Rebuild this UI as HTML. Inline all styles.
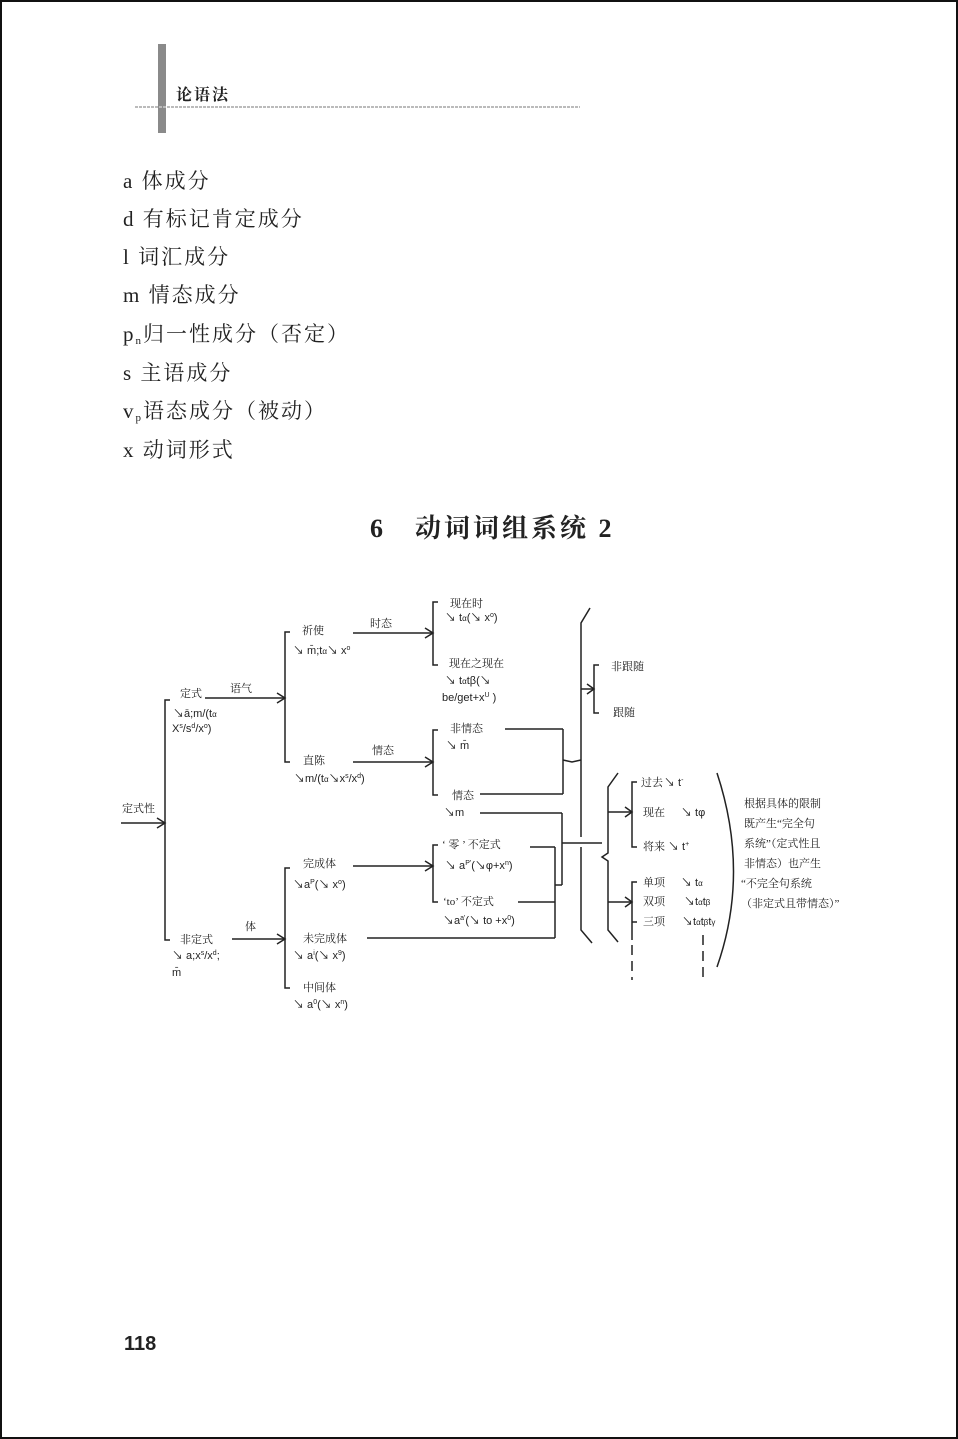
<!DOCTYPE html>
<html><head><meta charset="utf-8"><style>
html,body{margin:0;padding:0;background:#fff}
svg{display:block}
.s{font-family:"Liberation Serif","Noto Serif CJK SC",serif;fill:#222}
.f{font-family:"Liberation Sans","Noto Sans CJK SC",sans-serif;fill:#222}
</style></head><body>
<svg width="958" height="1439" viewBox="0 0 958 1439" xmlns="http://www.w3.org/2000/svg">
<rect x="1" y="1" width="956" height="1437" fill="#fff" stroke="#111" stroke-width="2"/>
<rect x="158" y="44" width="8" height="89" fill="#8a8a8a"/>
<text x="176" y="100" class="s" font-size="16" font-weight="bold" letter-spacing="2">论语法</text>
<line x1="135" y1="107" x2="580" y2="107" stroke="#bbb" stroke-width="2" stroke-dasharray="3,1"/>
<g class="s" font-size="21" letter-spacing="2">
<text x="123" y="188">a 体成分</text>
<text x="123" y="226">d 有标记肯定成分</text>
<text x="123" y="264">l 词汇成分</text>
<text x="123" y="302">m 情态成分</text>
<text x="123" y="341">p<tspan font-size="11" dy="3">n</tspan><tspan dy="-3">归一性成分（否定）</tspan></text>
<text x="123" y="380">s 主语成分</text>
<text x="123" y="418">v<tspan font-size="11" dy="3">p</tspan><tspan dy="-3">语态成分（被动）</tspan></text>
<text x="123" y="457">x 动词形式</text>
</g>
<text x="370" y="537" class="s" font-size="26" font-weight="bold" letter-spacing="3">6　动词词组系统 2</text>
<text x="124" y="1350" class="f" font-size="20" font-weight="bold">118</text>

<g stroke="#222" stroke-width="1.5" fill="none">
<line x1="121" y1="823" x2="165" y2="823"/><polyline points="157,818 165,823 157,828"/>
<polyline points="170,700 165,700 165,940 170,940"/>
<line x1="205" y1="698" x2="285" y2="698"/><polyline points="277,693 285,698 277,703"/>
<polyline points="290,632 285,632 285,762 290,762"/>
<line x1="353" y1="633" x2="433" y2="633"/><polyline points="425,628 433,633 425,638"/>
<polyline points="438,602 433,602 433,665 438,665"/>
<line x1="353" y1="762" x2="433" y2="762"/><polyline points="425,757 433,762 425,767"/>
<polyline points="438,730 433,730 433,795 438,795"/>
<line x1="505" y1="729" x2="563" y2="729"/>
<line x1="480" y1="794" x2="563" y2="794"/>
<line x1="563" y1="729" x2="563" y2="794"/>
<polyline points="563,760 572,762 581,760"/>
<line x1="480" y1="813" x2="562" y2="813"/>
<line x1="562" y1="813" x2="562" y2="885"/>
<line x1="555" y1="885" x2="562" y2="885"/>
<line x1="562" y1="843" x2="602" y2="843"/>
<line x1="232" y1="939" x2="285" y2="939"/><polyline points="277,934 285,939 277,944"/>
<polyline points="290,868 285,868 285,988 290,988"/>
<line x1="353" y1="866" x2="433" y2="866"/><polyline points="425,861 433,866 425,871"/>
<polyline points="438,845 433,845 433,902 438,902"/>
<line x1="530" y1="847" x2="555" y2="847"/>
<line x1="518" y1="902" x2="555" y2="902"/>
<line x1="367" y1="938" x2="555" y2="938"/>
<line x1="555" y1="847" x2="555" y2="938"/>
<polyline points="590,608 581,623 581,837"/>
<polyline points="581,847 581,930 592,943"/>
<line x1="581" y1="689" x2="594" y2="689"/><polyline points="587,684 594,689 587,694"/>
<polyline points="599,665 594,665 594,713 599,713"/>
<polyline points="618,773 608,787 608,853 602,857 608,861 608,930 618,942"/>
<line x1="608" y1="812" x2="632" y2="812"/><polyline points="625,807 632,812 625,817"/>
<polyline points="637,782 632,782 632,847 637,847"/>
<line x1="608" y1="902" x2="632" y2="902"/><polyline points="625,897 632,902 625,907"/>
<polyline points="637,882 632,882 632,940"/>
<line x1="632" y1="922" x2="637" y2="922"/>
<line x1="632" y1="945" x2="632" y2="980" stroke-dasharray="10,6"/>
<line x1="703" y1="935" x2="703" y2="980" stroke-dasharray="10,6"/>
<path d="M717,773 Q750,873 717,967"/>
</g>

<g class="s" font-size="11">
<text x="122" y="812">定式性</text>
<text x="180" y="697">定式</text>
<text x="230" y="692">语气</text>
<text x="173" y="717" class="f">↘ā;m/(t<tspan font-size="8">α</tspan></text>
<text x="172" y="732" class="f">X<tspan font-size="7" dy="-4">s</tspan><tspan dy="4">/s</tspan><tspan font-size="7" dy="-4">d</tspan><tspan dy="4">/x</tspan><tspan font-size="7" dy="-4">o</tspan><tspan dy="4">)</tspan></text>
<text x="302" y="634">祈使</text>
<text x="293" y="654" class="f">↘ m̄;t<tspan font-size="8">α</tspan>↘ x<tspan font-size="7" dy="-4">o</tspan></text>
<text x="370" y="627">时态</text>
<text x="450" y="607">现在时</text>
<text x="445" y="621" class="f">↘ t<tspan font-size="8">α</tspan>(↘ x<tspan font-size="7" dy="-4">o</tspan><tspan dy="4">)</tspan></text>
<text x="449" y="667">现在之现在</text>
<text x="445" y="684" class="f">↘ t<tspan font-size="8">α</tspan>tβ(↘</text>
<text x="442" y="701" class="f">be/get+x<tspan font-size="7" dy="-4">U</tspan><tspan dy="4"> )</tspan></text>
<text x="303" y="764">直陈</text>
<text x="294" y="782" class="f">↘m/(t<tspan font-size="8">α</tspan>↘x<tspan font-size="7" dy="-4">s</tspan><tspan dy="4">/x</tspan><tspan font-size="7" dy="-4">d</tspan><tspan dy="4">)</tspan></text>
<text x="372" y="754">情态</text>
<text x="450" y="732">非情态</text>
<text x="446" y="749" class="f">↘ m̄</text>
<text x="452" y="799">情态</text>
<text x="444" y="816" class="f">↘m</text>
<text x="180" y="943">非定式</text>
<text x="245" y="930">体</text>
<text x="172" y="959" class="f">↘ a;x<tspan font-size="7" dy="-4">s</tspan><tspan dy="4">/x</tspan><tspan font-size="7" dy="-4">d</tspan><tspan dy="4">;</tspan></text>
<text x="172" y="976" class="f">m̄</text>
<text x="303" y="867">完成体</text>
<text x="293" y="888" class="f">↘a<tspan font-size="7" dy="-4">P</tspan><tspan dy="4">(↘ x</tspan><tspan font-size="7" dy="-4">o</tspan><tspan dy="4">)</tspan></text>
<text x="442" y="848">‘ 零 ’ 不定式</text>
<text x="445" y="869" class="f">↘ a<tspan font-size="7" dy="-4">P'</tspan><tspan dy="4">(↘φ+x</tspan><tspan font-size="7" dy="-4">n</tspan><tspan dy="4">)</tspan></text>
<text x="443" y="905">‘to’ 不定式</text>
<text x="443" y="924" class="f">↘a<tspan font-size="7" dy="-4">a'</tspan><tspan dy="4">(↘ to +x</tspan><tspan font-size="7" dy="-4">0</tspan><tspan dy="4">)</tspan></text>
<text x="303" y="942">未完成体</text>
<text x="293" y="959" class="f">↘ a<tspan font-size="7" dy="-4">i</tspan><tspan dy="4">(↘ x</tspan><tspan font-size="7" dy="-4">9</tspan><tspan dy="4">)</tspan></text>
<text x="303" y="991">中间体</text>
<text x="293" y="1008" class="f">↘ a<tspan font-size="7" dy="-4">0</tspan><tspan dy="4">(↘ x</tspan><tspan font-size="7" dy="-4">n</tspan><tspan dy="4">)</tspan></text>
<text x="611" y="670">非跟随</text>
<text x="613" y="716">跟随</text>
<text x="641" y="786">过去</text><text x="664" y="786" class="f">↘ t<tspan font-size="7" dy="-4">-</tspan></text>
<text x="643" y="816">现在</text><text x="681" y="816" class="f">↘ tφ</text>
<text x="643" y="850">将来</text><text x="668" y="850" class="f">↘ t<tspan font-size="7" dy="-4">+</tspan></text>
<text x="643" y="886">单项</text><text x="681" y="886" class="f">↘ t<tspan font-size="8">α</tspan></text>
<text x="643" y="905">双项</text><text x="684" y="905" class="f">↘t<tspan font-size="8">α</tspan>t<tspan font-size="8">β</tspan></text>
<text x="643" y="925">三项</text><text x="682" y="925" class="f">↘t<tspan font-size="8">α</tspan>t<tspan font-size="8">β</tspan>t<tspan font-size="8">γ</tspan></text>
<text x="744" y="807">根据具体的限制</text>
<text x="744" y="827">既产生“完全句</text>
<text x="744" y="847">系统”（定式性且</text>
<text x="744" y="867">非情态）也产生</text>
<text x="741" y="887">“不完全句系统</text>
<text x="741" y="907">（非定式且带情态）”</text>
</g>
</svg>
</body></html>
